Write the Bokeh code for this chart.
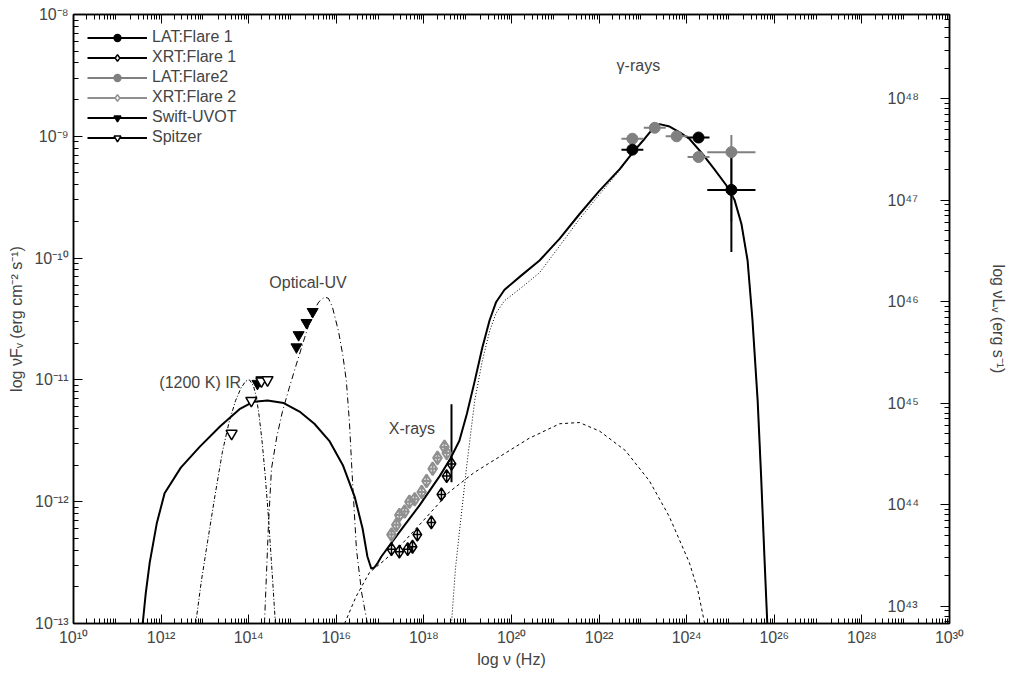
import numpy as np
from bokeh.plotting import figure
from bokeh.models import (Range1d, LinearAxis, FixedTicker, Legend, LegendItem,
                          ColumnDataSource, Label)
from bokeh.embed import file_html
from bokeh.resources import INLINE

# ---- data (log10 values) ----
spitzer_x = [13.61, 14.06, 14.29, 14.43]
spitzer_y = [-11.44, -11.17, -11.01, -11.00]
uvot_x = [14.20, 14.29, 15.09, 15.14, 15.32, 15.46]
uvot_y = [-11.03, -11.00, -10.73, -10.63, -10.53, -10.44]
xrt1_x = [17.26, 17.44, 17.63, 17.74, 17.85, 18.17, 18.40, 18.52, 18.63]
xrt1_y = [-12.39, -12.41, -12.39, -12.37, -12.27, -12.17, -11.94, -11.79, -11.69]
xrt2_x = [17.26, 17.37, 17.44, 17.56, 17.67, 17.79, 17.95, 18.06, 18.20, 18.31, 18.47, 18.52]
xrt2_y = [-12.27, -12.19, -12.11, -12.08, -12.00, -11.98, -11.92, -11.83, -11.73, -11.64, -11.55, -11.60]
lat1_x = [22.76, 24.27, 25.02]
lat1_y = [-9.11, -9.01, -9.44]
lat1_xerr = [0.25, 0.25, 0.55]
lat1_ylo = [-9.11, -9.01, -9.95]
lat1_yhi = [-9.11, -9.01, -9.13]
lat2_x = [22.76, 23.27, 23.77, 24.27, 25.02]
lat2_y = [-9.02, -8.93, -9.00, -9.17, -9.13]
lat2_xerr = [0.25, 0.25, 0.25, 0.25, 0.55]
lat2_ylo = [-9.02, -8.93, -9.00, -9.17, -9.70]
lat2_yhi = [-9.02, -8.93, -9.00, -9.17, -8.99]

total_x = [11.58, 11.65, 11.74, 11.90, 12.08, 12.45, 12.88, 13.35, 13.79, 14.10, 14.43, 14.80, 15.16,
           15.50, 15.84, 16.15, 16.42, 16.60, 16.71, 16.80, 16.87, 16.95, 17.03, 17.44, 17.90, 18.36,
           18.60, 18.81, 18.98, 19.16, 19.33, 19.50, 19.65, 19.84, 20.20, 20.64, 21.10, 21.55, 22.00,
           22.47, 22.80, 23.04, 23.20, 23.38, 23.61, 23.85, 24.06, 24.35, 24.63, 24.90, 25.09, 25.25,
           25.39, 25.50, 25.62, 25.70, 25.78, 25.84]
total_y = [-13.0, -12.75, -12.5, -12.18, -11.93, -11.72, -11.55, -11.38, -11.24, -11.18, -11.17, -11.19, -11.26,
           -11.36, -11.5, -11.7, -11.96, -12.22, -12.45, -12.55, -12.54, -12.50, -12.45, -12.25, -12.03, -11.79,
           -11.65, -11.5, -11.28, -11.01, -10.74, -10.51, -10.36, -10.26, -10.15, -10.02, -9.84, -9.64, -9.45,
           -9.27, -9.12, -9.02, -8.95, -8.9, -8.92, -8.97, -9.02, -9.14, -9.27, -9.40, -9.52, -9.72,
           -10.02, -10.50, -11.17, -11.80, -12.5, -13.0]
ec_x = [18.63, 18.72, 18.81, 18.98, 19.16, 19.33, 19.50, 19.65, 19.84, 20.20, 20.64, 21.10, 21.55, 22.00, 22.47, 22.80,
        23.04, 23.20, 23.38, 23.61, 23.85, 24.06, 24.35, 24.63, 24.90, 25.09, 25.25, 25.39, 25.50, 25.62, 25.70, 25.78, 25.84]
ec_y = [-13.0, -12.55, -12.25, -11.70, -11.17, -10.85, -10.60, -10.45, -10.35, -10.25, -10.12, -9.90, -9.68, -9.48, -9.28, -9.12,
        -9.02, -8.95, -8.9, -8.92, -8.97, -9.02, -9.14, -9.27, -9.40, -9.52, -9.72, -10.02, -10.50, -11.17, -11.80, -12.5, -13.0]
ssc_x = [16.19, 16.45, 16.76, 17.10, 17.44, 18.00, 18.58, 19.15, 19.73, 20.40, 21.10, 21.55, 22.01, 22.60, 23.15, 23.60, 24.06, 24.25, 24.41]
ssc_y = [-13.0, -12.78, -12.58, -12.48, -12.37, -12.15, -11.92, -11.76, -11.63, -11.48, -11.36, -11.35, -11.42, -11.58, -11.83, -12.12, -12.5, -12.72, -13.0]
disk_x = [14.36, 14.45, 14.52, 14.64, 14.77, 14.93, 15.09, 15.28, 15.46, 15.60, 15.73, 15.82, 15.91, 16.05, 16.15, 16.23, 16.30, 16.37, 16.46, 16.58, 16.71]
disk_y = [-13.0, -12.20, -11.73, -11.47, -11.26, -11.06, -10.87, -10.65, -10.45, -10.36, -10.32, -10.33, -10.40, -10.60, -10.80, -11.01, -11.35, -11.83, -12.39, -12.75, -13.0]
torus_x = [12.79, 12.92, 13.06, 13.23, 13.40, 13.55, 13.70, 13.82, 13.93, 14.02, 14.11, 14.18, 14.24, 14.31, 14.38, 14.45, 14.52, 14.61]
torus_y = [-13.0, -12.65, -12.33, -11.95, -11.59, -11.35, -11.17, -11.07, -11.01, -11.00, -11.05, -11.15, -11.3, -11.52, -11.8, -12.12, -12.5, -13.0]

x_dec = list(range(10, 31, 2))
y_dec = list(range(-13, -7))
r_dec = list(range(43, 49))

SUP = str.maketrans("-0123456789", "⁻⁰¹²³⁴⁵⁶⁷⁸⁹")
def lab(n): return "10" + str(n).translate(SUP)
FONT = "Liberation Sans"
FS = "16px"

p = figure(width=1017, height=670, output_backend="svg", toolbar_location=None,
           x_range=Range1d(10, 30), y_range=Range1d(-13, -8),
           min_border_left=73, min_border_right=68, min_border_top=14, min_border_bottom=45)
p.grid.visible = False
p.outline_line_color = "black"
p.outline_line_width = 1.5
p.extra_y_ranges = {"r": Range1d(42.83, 48.83)}

def minors(lo, hi):
    return [np.log10(k) + n for n in range(lo, hi) for k in range(2, 10)]

def style(ax):
    ax.major_tick_in = 9; ax.major_tick_out = 0
    ax.minor_tick_in = 5; ax.minor_tick_out = 0
    ax.axis_line_width = 1.5
    ax.major_label_text_font = FONT
    ax.major_label_text_font_size = FS
    ax.axis_label_text_font = FONT
    ax.axis_label_text_font_size = FS
    ax.axis_label_text_font_style = "normal"

xt = FixedTicker(ticks=x_dec, minor_ticks=minors(10, 30))
yt = FixedTicker(ticks=y_dec, minor_ticks=minors(-13, -8))
p.xaxis.ticker = xt
p.xaxis.major_label_overrides = {n: lab(n) for n in x_dec}
p.xaxis.axis_label = "log ν (Hz)"
p.yaxis.ticker = yt
p.yaxis.major_label_overrides = {n: lab(n) for n in y_dec}
p.yaxis.axis_label = "log νF\u1d65 (erg cm⁻² s⁻¹)"
style(p.xaxis[0]); style(p.yaxis[0])
p.xaxis[0].axis_label_standoff = 2
p.yaxis[0].axis_label_standoff = 6

top = LinearAxis(ticker=xt); style(top)
top.major_label_overrides = {n: "" for n in x_dec}
top.major_label_standoff = 0
p.add_layout(top, "above")
rax = LinearAxis(y_range_name="r", ticker=FixedTicker(ticks=r_dec, minor_ticks=minors(42, 49)),
                 axis_label="log νL\u1d65 (erg s⁻¹)")
rax.major_label_overrides = {n: lab(n) for n in r_dec}
style(rax)
rax.major_label_standoff = -62
rax.axis_label_standoff = 68
p.add_layout(rax, "right")

# model curves
p.line(torus_x, torus_y, color="black", line_width=1, line_dash="4 2 1 2")
p.line(disk_x, disk_y, color="black", line_width=1, line_dash="6 3 1 3")
p.line(ssc_x, ssc_y, color="black", line_width=1, line_dash="3 3")
p.line(ec_x, ec_y, color="black", line_width=1, line_dash="1 2")
p.line(total_x, total_y, color="black", line_width=2)

# data
def errs(x, y, xe, ylo, yhi, c):
    x = np.array(x); xe = np.array(xe)
    p.segment(x - xe, y, x + xe, y, color=c, line_width=2)
    p.segment(x, ylo, x, yhi, color=c, line_width=2)

errs(lat2_x, lat2_y, lat2_xerr, lat2_ylo, lat2_yhi, "#808080")
errs(lat1_x, lat1_y, lat1_xerr, lat1_ylo, lat1_yhi, "black")
p.segment([18.63], [-11.2], [18.63], [-11.84], color="black", line_width=2)
p.scatter(xrt2_x, xrt2_y, marker="diamond_cross", size=13, fill_color=None, line_color="#909090", line_width=2)
p.scatter(xrt1_x, xrt1_y, marker="diamond_cross", size=13, fill_color=None, line_color="black", line_width=1.5)
p.scatter(lat2_x, lat2_y, marker="circle", size=11, fill_color="#808080", line_color="#808080")
p.scatter(lat1_x, lat1_y, marker="circle", size=11, fill_color="black", line_color="black")
p.scatter(uvot_x, uvot_y, marker="inverted_triangle", size=11, fill_color="black", line_color="black")
p.scatter(spitzer_x, spitzer_y, marker="inverted_triangle", size=11, fill_color="white", line_color="black", line_width=1.5)

for txt, x, y in [("γ-rays", 22.4, -8.42), ("Optical-UV", 14.47, -10.2), ("(1200 K) IR", 11.96, -11.02), ("X-rays", 17.2, -11.4)]:
    p.add_layout(Label(x=x, y=y, text=txt, text_font=FONT, text_font_size=FS, text_baseline="middle"))

# legend
lsrc = ColumnDataSource(dict(x=[np.nan], y=[np.nan]))
items = []
for name, m, fc, lc in [("LAT:Flare 1", "circle", "black", "black"),
                        ("XRT:Flare 1", "diamond", "white", "black"),
                        ("LAT:Flare2", "circle", "#808080", "#808080"),
                        ("XRT:Flare 2", "diamond", "white", "#909090"),
                        ("Swift-UVOT", "inverted_triangle", "black", "black"),
                        ("Spitzer", "inverted_triangle", "white", "black")]:
    r1 = p.line("x", "y", source=lsrc, color=lc, line_width=2)
    r2 = p.scatter("x", "y", source=lsrc, marker=m, size=11, fill_color=fc, line_color=lc, line_width=1.5)
    items.append(LegendItem(label=name, renderers=[r1, r2]))
leg = Legend(items=items, location="top_left", border_line_color=None, background_fill_alpha=0,
             label_text_font=FONT, label_text_font_size=FS, glyph_width=60, glyph_height=17,
             label_height=17, spacing=2, padding=4, margin=14)
p.add_layout(leg)

open("out.html", "w").write(file_html(p, INLINE))
